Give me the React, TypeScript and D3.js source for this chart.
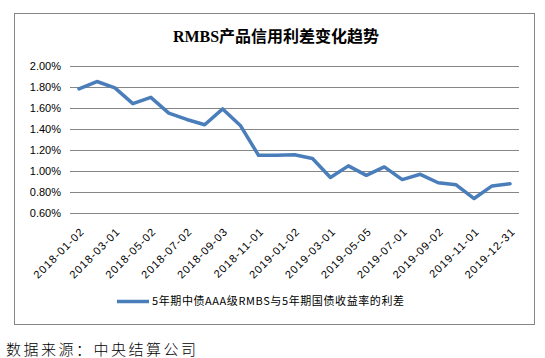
import React from "react";
import * as d3 from "d3";

const categories = [
  "2018-01-02", "2018-02-01", "2018-03-01", "2018-04-02", "2018-05-02", "2018-06-01",
  "2018-07-02", "2018-08-01", "2018-09-03", "2018-10-08", "2018-11-01", "2018-12-03",
  "2019-01-02", "2019-02-01", "2019-03-01", "2019-04-01", "2019-05-05", "2019-06-03",
  "2019-07-01", "2019-08-01", "2019-09-02", "2019-10-08", "2019-11-01", "2019-12-02",
  "2019-12-31",
];
const spreadValues = [
  1.78, 1.85, 1.79, 1.64, 1.70, 1.55, 1.49, 1.44, 1.59, 1.43, 1.15, 1.15,
  1.155, 1.12, 0.94, 1.05, 0.96, 1.04, 0.92, 0.97, 0.89, 0.87, 0.74, 0.86, 0.88,
];
const yTicks = [0.6, 0.8, 1.0, 1.2, 1.4, 1.6, 1.8, 2.0];
const titleText = "RMBS产品信用利差变化趋势";
const legendText = "5年期中债AAA级RMBS与5年期国债收益率的利差";
const sourceText = "数据来源：中央结算公司";

export default function App() {
  const W = 545, H = 358;
  const plot = { left: 70, right: 519, top: 65.7, bottom: 213.3 };
  const x = d3.scaleBand<string>().domain(categories).range([plot.left, plot.right]);
  const y = d3.scaleLinear().domain([0.6, 2.0]).range([plot.bottom, plot.top]);
  const cx = (c: string) => (x(c) as number) + x.bandwidth() / 2;
  const line = d3.line<number>()
    .x((_, i) => cx(categories[i]))
    .y((d) => y(d));
  const labelFont = "'Liberation Sans', Arial, sans-serif";
  const cjk = "'Noto Sans CJK SC', sans-serif";
  return (
    <svg width={W} height={H} style={{ position: "absolute", left: 0, top: 0, background: "#fff" }}>
      <rect x={14.5} y={13.5} width={520} height={311} fill="#fff" stroke="#868686" strokeWidth={1} />
      <text x={276} y={42} textAnchor="middle" fontFamily={"'Liberation Serif', 'Noto Sans CJK SC', serif"}
        fontWeight="bold" fontSize={16} fill="#000">{titleText}</text>
      {yTicks.map((t) => (
        <g key={t}>
          <line x1={plot.left} x2={plot.right} y1={Math.round(y(t)) + 0.5} y2={Math.round(y(t)) + 0.5}
            stroke="#868686" strokeWidth={1} />
          <text x={61} y={y(t)} dy="0.35em" textAnchor="end" fontFamily={labelFont} fontSize={11} fill="#000">
            {t.toFixed(2) + "%"}
          </text>
        </g>
      ))}
      {categories.map((c, i) =>
        i % 2 === 0 ? (
          <text key={c} transform={`translate(${cx(c) + 6},${plot.bottom + 19}) rotate(-45)`}
            textAnchor="end" fontFamily={labelFont} fontSize={11} letterSpacing={1} fill="#000">{c}</text>
        ) : null
      )}
      <path d={line(spreadValues) || ""} fill="none" stroke="#4A7EBB" strokeWidth={3.5}
        strokeLinejoin="round" strokeLinecap="round" />
      <line x1={117} x2={149} y1={301.5} y2={301.5} stroke="#4A7EBB" strokeWidth={3.5} />
      <text x={152} y={301.5} dy="0.35em" fontFamily={cjk} fontSize={11} letterSpacing={0.6} fill="#000">{legendText}</text>
      <text x={6} y={350} dy="0.35em" fontFamily={cjk} fontWeight={300} fontSize={15} letterSpacing={2.5} fill="#000">{sourceText}</text>
    </svg>
  );
}
